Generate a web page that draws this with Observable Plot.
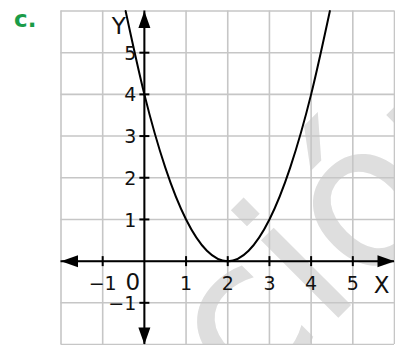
<!DOCTYPE html>
<html>
<head>
<meta charset="utf-8">
<script src="https://cdn.jsdelivr.net/npm/d3@7"></script>
<script src="https://cdn.jsdelivr.net/npm/@observablehq/plot@0.6"></script>
<style>
html, body { margin: 0; padding: 0; background: #fff; overflow: hidden; }
#wrap { position: relative; width: 395px; height: 345px; overflow: hidden; }
#deco { position: absolute; left: 0; top: 0; z-index: 0; }
#chart { position: absolute; left: 0; top: 0; z-index: 1; }
#chart svg { display: block; }
</style>
</head>
<body>
<div id="wrap">
  <svg id="deco" width="395" height="345" xmlns="http://www.w3.org/2000/svg">
    <text transform="translate(-58,714) rotate(-45)" font-family="DejaVu Sans" font-size="200" fill="#dedede">Solución</text>
    <text x="14" y="27" font-family="DejaVu Sans" font-weight="bold" font-size="23" fill="#1a9c48">c.</text>
  </svg>
  <div id="chart"></div>
</div>
<script>
// Grid and axes extents
const gridX = [-2, -1, 0, 1, 2, 3, 4, 5, 6];
const gridY = [-2, -1, 0, 1, 2, 3, 4, 5, 6];
const axisMin = -2;
const axisMax = 6;

// Tick positions and labels
const xTickValues = [-1, 1, 2, 3, 4, 5];
const xTickLabels = ["−1", "1", "2", "3", "4", "5"];
const yTickValues = [-1, 1, 2, 3, 4, 5];
const yTickLabels = ["−1", "1", "2", "3", "4", "5"];

// Curve points (parabola with vertex at (2, 0))
const curveX = [-0.45, 0, 0.5, 1, 1.5, 2, 2.5, 3, 3.5, 4, 4.45];
const curveY = [6, 4, 2.25, 1, 0.25, 0, 0.25, 1, 2.25, 4, 6];

const curve = curveX.map((x, i) => ({x, y: curveY[i]}));
const xTicks = xTickValues.map((v, i) => ({v, label: xTickLabels[i]}));
const yTicks = yTickValues.map((v, i) => ({v, label: yTickLabels[i]}));

// Custom arrowhead and tick symbols
const L = 17, W = 6;
const arrowRight = {draw(c) { c.moveTo(0, 0); c.lineTo(-L, -W); c.lineTo(-L, W); c.closePath(); }};
const arrowLeft  = {draw(c) { c.moveTo(0, 0); c.lineTo(L, -W); c.lineTo(L, W); c.closePath(); }};
const arrowUp    = {draw(c) { c.moveTo(0, 0); c.lineTo(-W, L); c.lineTo(W, L); c.closePath(); }};
const arrowDown  = {draw(c) { c.moveTo(0, 0); c.lineTo(-W, -L); c.lineTo(W, -L); c.closePath(); }};
const vTick = {draw(c) { c.moveTo(0, -5); c.lineTo(0, 5); }};
const hTick = {draw(c) { c.moveTo(-5, 0); c.lineTo(5, 0); }};

const font = "DejaVu Sans";

const chart = Plot.plot({
  width: 395,
  height: 345,
  marginLeft: 60.5,
  marginRight: 1,
  marginTop: 10.5,
  marginBottom: 1,
  style: {background: "transparent", fontFamily: font, overflow: "visible"},
  x: {domain: [axisMin, axisMax], axis: null},
  y: {domain: [axisMin, axisMax], axis: null},
  marks: [
    Plot.ruleX(gridX, {stroke: "#c6c6c6", strokeWidth: 1.6}),
    Plot.ruleY(gridY, {stroke: "#c6c6c6", strokeWidth: 1.6}),
    Plot.ruleY([0], {stroke: "#000", strokeWidth: 2}),
    Plot.ruleX([0], {stroke: "#000", strokeWidth: 2}),
    Plot.dot([axisMax], {x: d => d, y: () => 0, symbol: arrowRight, fill: "#000", stroke: "none"}),
    Plot.dot([axisMin], {x: d => d, y: () => 0, symbol: arrowLeft, fill: "#000", stroke: "none"}),
    Plot.dot([axisMax], {x: () => 0, y: d => d, symbol: arrowUp, fill: "#000", stroke: "none"}),
    Plot.dot([axisMin], {x: () => 0, y: d => d, symbol: arrowDown, fill: "#000", stroke: "none"}),
    Plot.dot(xTicks, {x: "v", y: () => 0, symbol: vTick, fill: "none", stroke: "#000", strokeWidth: 2}),
    Plot.dot(yTicks, {x: () => 0, y: "v", symbol: hTick, fill: "none", stroke: "#000", strokeWidth: 2}),
    Plot.line(curve, {x: "x", y: "y", curve: "natural", stroke: "#000", strokeWidth: 2}),
    Plot.text(xTicks, {x: "v", y: () => 0, text: "label", dy: 23, fontSize: 19, fill: "#111"}),
    Plot.text(yTicks, {x: () => 0, y: "v", text: "label", dx: -8, dy: 1, textAnchor: "end", fontSize: 19, fill: "#111"}),
    Plot.text(["0"], {x: () => 0, y: () => 0, text: d => d, dx: -11.5, dy: 21, fontSize: 23, fill: "#111"}),
    Plot.text(["X"], {x: () => axisMax, y: () => 0, text: d => d, dx: -13, dy: 24, fontSize: 23, fill: "#111"}),
    Plot.text(["Y"], {x: () => 0, y: () => axisMax, text: d => d, dx: -25.5, dy: 15.5, fontSize: 23, fill: "#111"})
  ]
});
document.getElementById("chart").appendChild(chart);
</script>
</body>
</html>
